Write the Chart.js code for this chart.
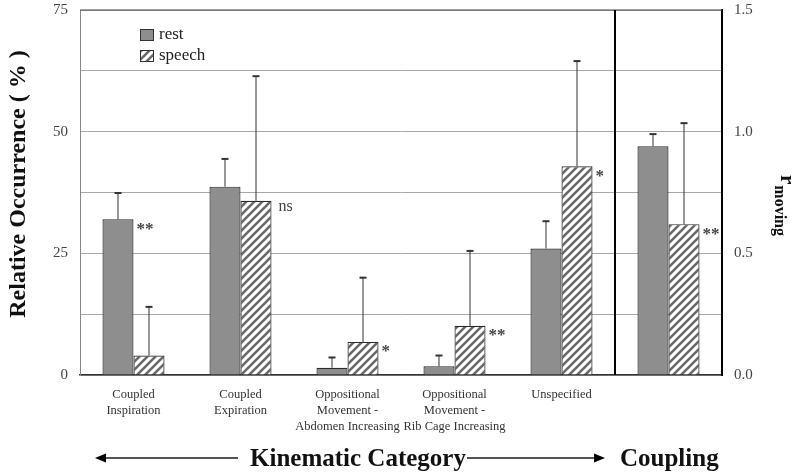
<!DOCTYPE html>
<html><head><meta charset="utf-8">
<script src="https://cdn.jsdelivr.net/npm/chart.js@4/dist/chart.umd.min.js"></script>
<style>html,body{margin:0;padding:0;background:#fff}#wrap{width:800px;height:476px}</style>
</head><body><div id="wrap"><canvas id="c" width="800" height="476"></canvas></div>
<script>
// ---- data ----
const categories = [['Coupled','Inspiration'],['Coupled','Expiration'],['Oppositional','Movement -','Abdomen Increasing'],['Oppositional','Movement -','Rib Cage Increasing'],['Unspecified'],''];
const kinRest = [32.0, 38.7, 1.5, 1.8, 26.0];          // % occurrence
const kinRestErr = [5.4, 5.7, 2.1, 2.2, 5.6];
const kinSpeech = [4.0, 35.8, 6.8, 10.1, 42.9];
const kinSpeechErr = [10.0, 25.6, 13.2, 15.4, 21.6];
const coupRest = [0.94], coupRestErr = [0.05];          // r moving
const coupSpeech = [0.62], coupSpeechErr = [0.415];
const sigLabels = ['**','ns','*','**','*','**'];
const sigAnchor = [0,1,1,1,1,1];
const leftTicks = [0,25,50,75];
const rightTicks = [0,0.5,1.0,1.5];
const seriesNames = ['rest','speech'];

// right axis 0-1.5 aligned with left 0-75
const rScale = leftTicks[leftTicks.length-1] / rightTicks[rightTicks.length-1];
const restData = kinRest.concat(coupRest.map(v=>v*rScale));
const restErr = kinRestErr.concat(coupRestErr.map(v=>v*rScale));
const speechData = kinSpeech.concat(coupSpeech.map(v=>v*rScale));
const speechErr = kinSpeechErr.concat(coupSpeechErr.map(v=>v*rScale));

const SERIF = '"Liberation Serif", "DejaVu Serif", serif';

function makeHatch(){
  const c = document.createElement('canvas'); c.width = 8; c.height = 8;
  const g = c.getContext('2d');
  g.fillStyle = '#ffffff'; g.fillRect(0,0,8,8);
  g.strokeStyle = '#6a6a6a'; g.lineWidth = 2.6;
  g.beginPath();
  g.moveTo(-4,4); g.lineTo(4,-4);
  g.moveTo(0,8); g.lineTo(8,0);
  g.moveTo(4,12); g.lineTo(12,4);
  g.stroke();
  return document.getElementById('c').getContext('2d').createPattern(c,'repeat');
}
const hatch = makeHatch();

const extras = {
  id:'extras',
  afterDatasetsDraw(chart){
    const ctx = chart.ctx, y = chart.scales.y, x = chart.scales.x, a = chart.chartArea;
    ctx.save();
    // frame
    ctx.strokeStyle = '#444'; ctx.lineWidth = 1.2;
    ctx.beginPath(); ctx.moveTo(a.left, a.top); ctx.lineTo(a.right, a.top); ctx.stroke();
    const divX = (x.getPixelForTick(4) + x.getPixelForTick(5)) / 2;
    ctx.strokeStyle = '#000'; ctx.lineWidth = 2;
    ctx.beginPath(); ctx.moveTo(divX, a.top); ctx.lineTo(divX, a.bottom); ctx.stroke();
    // error bars
    chart.data.datasets.forEach((ds, di) => {
      const meta = chart.getDatasetMeta(di);
      meta.data.forEach((el, i) => {
        const top = y.getPixelForValue(ds.data[i] + ds.errors[i]);
        ctx.strokeStyle = '#333'; ctx.lineWidth = 1;
        ctx.beginPath(); ctx.moveTo(el.x, el.y); ctx.lineTo(el.x, top); ctx.stroke();
        ctx.lineWidth = 2;
        ctx.beginPath(); ctx.moveTo(el.x-3.5, top); ctx.lineTo(el.x+3.5, top); ctx.stroke();
      });
    });
    // significance labels
    ctx.fillStyle = '#444';
    ctx.textAlign = 'left'; ctx.textBaseline = 'middle';
    sigLabels.forEach((s, i) => {
      const el = chart.getDatasetMeta(sigAnchor[i]).data[i];
      const right = el.x + el.width/2;
      if (s === 'ns') {
        ctx.font = '16px ' + SERIF;
        ctx.fillText(s, right + 7, el.y + 6);
      } else {
        ctx.font = 'bold 17px ' + SERIF;
        ctx.fillText(s, right + 3, el.y + 10);
      }
    });
    ctx.restore();
  },
  afterDraw(chart){
    const ctx = chart.ctx;
    ctx.save();
    // legend
    const ds = chart.data.datasets;
    const legY = [29, 50];
    ds.forEach((d, i) => {
      ctx.fillStyle = d.backgroundColor;
      ctx.fillRect(140, legY[i], 14, 12);
      ctx.strokeStyle = '#333'; ctx.lineWidth = 1;
      ctx.strokeRect(140.5, legY[i]+0.5, 13, 11);
      ctx.fillStyle = '#222'; ctx.font = '17px ' + SERIF;
      ctx.textAlign = 'left'; ctx.textBaseline = 'middle';
      ctx.fillText(seriesNames[i], 159, legY[i] + 6);
    });
    // left title
    ctx.save();
    ctx.translate(25, 184); ctx.rotate(-Math.PI/2);
    ctx.fillStyle = '#111'; ctx.font = 'bold 24px ' + SERIF;
    ctx.textAlign = 'center'; ctx.textBaseline = 'alphabetic';
    ctx.fillText('Relative Occurrence ( % )', 0, 0);
    ctx.restore();
    // right title r_moving
    ctx.save();
    ctx.translate(781, 175); ctx.rotate(Math.PI/2);
    ctx.fillStyle = '#111'; ctx.textAlign = 'left'; ctx.textBaseline = 'alphabetic';
    ctx.font = 'bold 21px ' + SERIF;
    ctx.fillText('r', 0, 0);
    const rw = ctx.measureText('r').width;
    ctx.font = 'bold 16px ' + SERIF;
    ctx.fillText('moving', rw + 1, 6);
    ctx.restore();
    // bottom labels and arrows
    ctx.fillStyle = '#111'; ctx.font = 'bold 25px ' + SERIF;
    ctx.textAlign = 'left'; ctx.textBaseline = 'alphabetic';
    ctx.fillText('Kinematic Category', 250, 466);
    ctx.fillText('Coupling', 620, 466);
    ctx.strokeStyle = '#555'; ctx.lineWidth = 2;
    ctx.beginPath(); ctx.moveTo(238, 458); ctx.lineTo(100, 458); ctx.stroke();
    ctx.beginPath(); ctx.moveTo(467, 458); ctx.lineTo(598, 458); ctx.stroke();
    ctx.fillStyle = '#000';
    ctx.beginPath(); ctx.moveTo(95, 458); ctx.lineTo(106, 453.5); ctx.lineTo(106, 462.5); ctx.closePath(); ctx.fill();
    ctx.beginPath(); ctx.moveTo(605, 458); ctx.lineTo(594, 453.5); ctx.lineTo(594, 462.5); ctx.closePath(); ctx.fill();
    ctx.restore();
  }
};

new Chart(document.getElementById('c'), {
  type: 'bar',
  data: {
    labels: categories,
    datasets: [
      {label: seriesNames[0], data: restData, errors: restErr, backgroundColor: '#8e8e8e', borderColor: '#2b2b2b', borderWidth: 1.2},
      {label: seriesNames[1], data: speechData, errors: speechErr, backgroundColor: hatch, borderColor: '#2b2b2b', borderWidth: 1.2}
    ]
  },
  options: {
    responsive: false, animation: false, devicePixelRatio: 1,
    categoryPercentage: 0.58, barPercentage: 1,
    layout: {padding: {top: 10, left: 0, right: 0, bottom: 0}},
    plugins: {legend: {display: false}, tooltip: {enabled: false}},
    scales: {
      x: {
        grid: {display: false, drawTicks: false},
        border: {color: '#333', width: 1.5},
        ticks: {font: {family: SERIF, size: 12.5, lineHeight: 1.28}, color: '#333', padding: 12, maxRotation: 0, autoSkip: false},
        afterFit(s){ s.height = 101; s.paddingLeft = 0; s.paddingRight = 0; }
      },
      y: {
        min: 0, max: 75,
        ticks: {stepSize: 12.5, autoSkip: false, callback: v => leftTicks.includes(v) ? String(v) : '', font: {family: SERIF, size: 15}, color: '#444', padding: 12},
        grid: {color: '#a8a8a8', drawTicks: false, lineWidth: 1},
        border: {color: '#888', width: 1},
        afterFit(s){ s.width = 80; s.paddingTop = 0; s.paddingBottom = 0; }
      },
      y2: {
        position: 'right', min: 0, max: 1.5,
        ticks: {stepSize: 0.5, autoSkip: false, callback: v => rightTicks.includes(v) ? v.toFixed(1) : '', font: {family: SERIF, size: 15}, color: '#444', padding: 12},
        grid: {display: false, drawTicks: false},
        border: {color: '#000', width: 2},
        afterFit(s){ s.width = 78; s.paddingTop = 0; s.paddingBottom = 0; }
      }
    }
  },
  plugins: [extras]
});
</script></body></html>
